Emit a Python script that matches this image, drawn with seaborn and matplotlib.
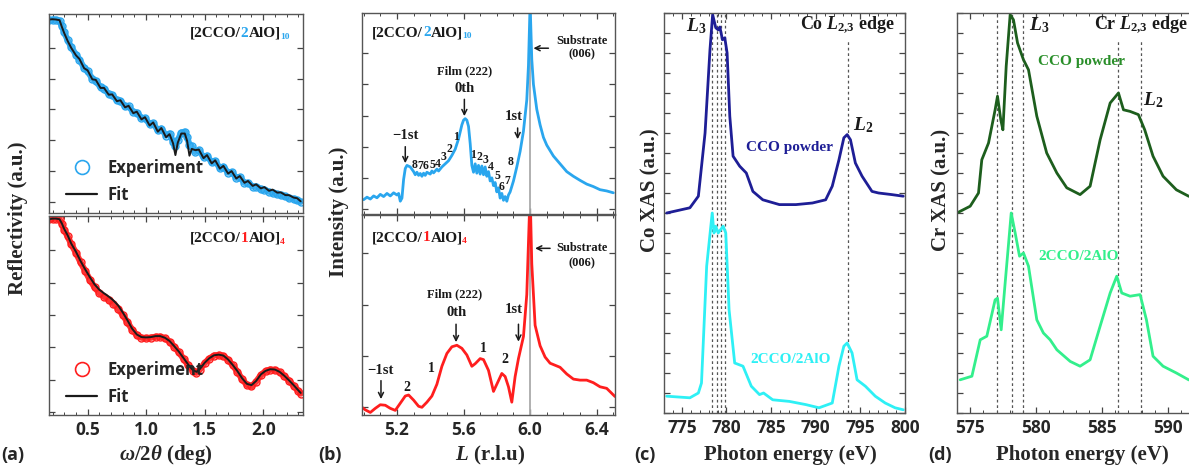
import matplotlib
matplotlib.use("Agg")
import matplotlib.pyplot as plt
import seaborn as sns
from matplotlib.lines import Line2D
from matplotlib.ticker import MultipleLocator, FixedLocator

# ---------------- data ----------------
# (a) reflectivity, top sample [2CCO/2AlO]10  (log units, a.u.)
angle_top = [0.17, 0.20, 0.23, 0.26, 0.28, 0.30, 0.33, 0.36, 0.40, 0.43, 0.47, 0.50, 0.54, 0.57,
             0.61, 0.64, 0.68, 0.71, 0.75, 0.78, 0.82, 0.85, 0.89, 0.92, 0.96, 0.99, 1.03, 1.06,
             1.10, 1.13, 1.17, 1.20, 1.23, 1.25, 1.27, 1.30, 1.33, 1.35, 1.37, 1.39, 1.42, 1.45,
             1.49, 1.52, 1.56, 1.59, 1.63, 1.66, 1.70, 1.73, 1.77, 1.80, 1.84, 1.87, 1.91, 1.94,
             1.98, 2.01, 2.05, 2.08, 2.12, 2.15, 2.19, 2.22, 2.26, 2.29, 2.32]
exp_top = [5.90, 5.92, 5.91, 5.88, 5.70, 5.50, 5.25, 5.02, 4.78, 4.62, 4.35, 4.24, 4.00, 3.93,
           3.72, 3.68, 3.50, 3.47, 3.30, 3.28, 3.10, 3.10, 2.92, 2.90, 2.72, 2.72, 2.52, 2.55,
           2.32, 2.38, 2.15, 2.22, 1.95, 1.82, 2.00, 2.25, 2.28, 2.10, 1.85, 1.80, 1.62, 1.68,
           1.45, 1.50, 1.28, 1.32, 1.10, 1.14, 0.95, 0.97, 0.78, 0.80, 0.62, 0.62, 0.50, 0.50,
           0.42, 0.40, 0.33, 0.30, 0.25, 0.22, 0.18, 0.12, 0.10, 0.05, 0.00]
fit_top = [5.92, 5.93, 5.92, 5.90, 5.68, 5.48, 5.22, 5.00, 4.76, 4.64, 4.34, 4.27, 3.98, 3.96,
           3.70, 3.70, 3.48, 3.49, 3.27, 3.30, 3.07, 3.12, 2.88, 2.93, 2.68, 2.75, 2.48, 2.58,
           2.28, 2.40, 2.10, 2.20, 1.90, 1.52, 1.92, 2.22, 2.22, 1.98, 1.50, 1.72, 1.68, 1.70,
           1.42, 1.52, 1.25, 1.35, 1.08, 1.17, 0.92, 1.00, 0.76, 0.84, 0.62, 0.68, 0.52, 0.57,
           0.44, 0.48, 0.36, 0.40, 0.30, 0.31, 0.22, 0.22, 0.14, 0.12, 0.02]

# (a) reflectivity, bottom sample [2CCO/1AlO]4
angle_bot = [0.17, 0.20, 0.23, 0.26, 0.28, 0.30, 0.33, 0.36, 0.40, 0.44, 0.48, 0.52, 0.56, 0.60,
             0.64, 0.68, 0.72, 0.76, 0.80, 0.84, 0.88, 0.92, 0.96, 1.00, 1.04, 1.08, 1.12, 1.16,
             1.20, 1.24, 1.28, 1.32, 1.36, 1.40, 1.43, 1.46, 1.50, 1.54, 1.58, 1.62, 1.66, 1.70,
             1.74, 1.78, 1.82, 1.86, 1.90, 1.94, 1.98, 2.02, 2.06, 2.10, 2.14, 2.18, 2.22, 2.26,
             2.30, 2.32]
exp_bot = [5.95, 5.97, 5.97, 5.95, 5.80, 5.62, 5.42, 5.18, 4.92, 4.62, 4.35, 4.08, 3.85, 3.68,
           3.57, 3.47, 3.35, 3.20, 3.00, 2.78, 2.55, 2.38, 2.30, 2.29, 2.30, 2.33, 2.33, 2.28,
           2.18, 2.02, 1.85, 1.65, 1.45, 1.28, 1.22, 1.32, 1.52, 1.66, 1.75, 1.77, 1.74, 1.62,
           1.45, 1.25, 1.02, 0.85, 0.80, 0.95, 1.15, 1.27, 1.32, 1.31, 1.24, 1.12, 0.98, 0.82,
           0.66, 0.58]
fit_bot = [5.95, 5.97, 5.97, 5.95, 5.82, 5.65, 5.45, 5.20, 4.95, 4.66, 4.40, 4.16, 3.94, 3.78,
           3.67, 3.57, 3.45, 3.30, 3.08, 2.84, 2.58, 2.40, 2.32, 2.31, 2.32, 2.35, 2.35, 2.30,
           2.20, 2.04, 1.87, 1.67, 1.47, 1.30, 1.25, 1.34, 1.53, 1.67, 1.76, 1.78, 1.75, 1.63,
           1.46, 1.27, 1.05, 0.88, 0.84, 0.97, 1.17, 1.28, 1.33, 1.32, 1.25, 1.13, 0.99, 0.84,
           0.68, 0.60]

# (b) XRD, top sample
L_top = [5.00, 5.02, 5.04, 5.06, 5.08, 5.10, 5.12, 5.14, 5.16, 5.18, 5.20, 5.21, 5.22, 5.23,
         5.24, 5.25, 5.26, 5.28, 5.30, 5.31, 5.32, 5.33, 5.34, 5.35, 5.36, 5.37, 5.38, 5.40,
         5.41, 5.42, 5.44, 5.45, 5.47, 5.49, 5.51, 5.53, 5.55, 5.57, 5.59, 5.60, 5.61, 5.62,
         5.63, 5.64, 5.65, 5.66, 5.67, 5.68, 5.69, 5.70, 5.71, 5.72, 5.73, 5.74, 5.75, 5.76,
         5.77, 5.78, 5.79, 5.80, 5.81, 5.82, 5.83, 5.84, 5.85, 5.86, 5.87, 5.88, 5.90, 5.92,
         5.94, 5.96, 5.98, 5.99, 6.00, 6.01, 6.02, 6.04, 6.06, 6.08, 6.10, 6.14, 6.18, 6.22,
         6.26, 6.30, 6.34, 6.38, 6.42, 6.46, 6.50]
I_top = [0.30, 0.38, 0.32, 0.42, 0.36, 0.47, 0.40, 0.50, 0.42, 0.52, 0.45, 0.50, 0.25, 0.35,
         0.95, 1.30, 1.40, 1.35, 1.20, 1.10, 1.18, 1.08, 1.14, 1.05, 1.15, 1.08, 1.18, 1.12,
         1.22, 1.16, 1.28, 1.22, 1.35, 1.45, 1.55, 1.72, 1.92, 2.25, 2.70, 2.85, 2.90, 2.85,
         2.65, 2.10, 1.40, 1.18, 1.45, 1.15, 1.40, 1.12, 1.38, 1.10, 1.35, 1.05, 1.20, 0.90,
         1.00, 0.75, 0.85, 0.55, 0.68, 0.35, 0.50, 0.28, 0.40, 0.25, 0.45, 0.55, 0.90, 1.35,
         1.85, 2.50, 3.50, 4.60, 6.60, 4.80, 4.00, 3.20, 2.70, 2.30, 2.05, 1.70, 1.45, 1.20,
         1.05, 0.92, 0.80, 0.72, 0.62, 0.58, 0.52]

# (b) XRD, bottom sample
L_bot = [4.99, 5.01, 5.04, 5.07, 5.10, 5.13, 5.16, 5.19, 5.22, 5.25, 5.27, 5.30, 5.33, 5.35,
         5.38, 5.41, 5.44, 5.47, 5.50, 5.53, 5.56, 5.59, 5.62, 5.65, 5.67, 5.70, 5.72, 5.75,
         5.78, 5.80, 5.83, 5.85, 5.87, 5.89, 5.91, 5.93, 5.96, 5.98, 5.99, 6.00, 6.01, 6.03,
         6.06, 6.09, 6.12, 6.15, 6.18, 6.22, 6.26, 6.30, 6.34, 6.38, 6.42, 6.46, 6.51]
I_bot = [0.00, -0.05, -0.10, -0.02, 0.05, 0.04, -0.02, -0.06, 0.08, 0.22, 0.24, 0.14, 0.02, 0.00,
         0.10, 0.22, 0.45, 0.80, 1.05, 1.18, 1.21, 1.15, 1.02, 0.80, 0.85, 0.95, 0.93, 0.72,
         0.31, 0.45, 0.66, 0.60, 0.40, 0.10, 0.60, 0.95, 1.38, 2.20, 3.20, 4.20, 2.80, 1.60,
         1.20, 0.98, 0.86, 0.82, 0.78, 0.65, 0.55, 0.53, 0.53, 0.48, 0.40, 0.37, 0.21]

# (c) Co L-edge XAS
E_co_powder = [773.3, 775.9, 776.85, 777.6, 778.15, 778.45, 778.8, 779.07, 779.26, 779.55, 779.81,
               780.07, 780.37, 780.74, 781.48, 782.22, 782.96, 784.07, 785.93, 787.78, 789.63,
               791.11, 791.85, 792.6, 793.15, 793.52, 793.89, 794.44, 795.19, 796.3, 797.04,
               798.52, 799.81]
xas_co_powder = [5.00, 5.13, 5.42, 7.00, 9.08, 9.96, 9.63, 9.58, 9.65, 9.33, 9.38,
                 9.00, 7.42, 6.42, 6.17, 6.00, 5.54, 5.33, 5.21, 5.21, 5.25,
                 5.33, 5.67, 6.33, 6.88, 6.96, 6.83, 6.25, 5.92, 5.54, 5.50,
                 5.46, 5.42]
E_co_film = [773.3, 775.9, 776.85, 777.2, 777.78, 778.4, 778.6, 778.8, 779.07, 779.33, 779.63,
             779.92, 780.29, 780.92, 781.85, 782.78, 783.7, 784.15, 785.18, 787.04, 788.89,
             790.37, 791.85, 792.6, 793.15, 793.52, 794.07, 794.63, 795.56, 796.67, 797.78,
             798.89, 799.81]
xas_co_film = [0.42, 0.38, 0.50, 0.75, 3.67, 5.00, 4.50, 4.67, 4.50, 4.58, 4.67,
               4.50, 2.58, 1.25, 1.17, 0.67, 0.46, 0.50, 0.33, 0.29, 0.21,
               0.13, 0.25, 1.17, 1.67, 1.75, 1.50, 0.83, 0.67, 0.42, 0.25,
               0.13, 0.08]
co_L3_lines = [778.4, 778.9, 779.37, 779.85]
co_L2_line = 793.6

# (d) Cr L-edge XAS
E_cr_powder = [573.99, 575.0, 575.63, 575.88, 576.39, 576.89, 577.07, 577.32, 577.48, 577.73,
               578.03, 578.28, 578.59, 579.04, 579.42, 580.05, 580.8, 581.57, 582.32, 583.33,
               584.09, 584.85, 585.61, 586.24, 586.62, 587.12, 587.75, 588.23, 588.86, 589.62,
               590.63, 591.56, 592.8]
xas_cr_powder = [5.00, 5.17, 5.50, 6.33, 6.75, 7.58, 7.92, 7.33, 7.08, 8.67,
                 9.96, 9.83, 9.25, 8.83, 8.58, 7.42, 6.50, 6.00, 5.63, 5.46,
                 5.67, 6.83, 7.75, 8.00, 7.58, 7.54, 7.46, 7.08, 6.42, 5.92,
                 5.58, 5.42, 5.33]
E_cr_film = [574.24, 575.13, 575.76, 576.26, 576.89, 577.07, 577.35, 577.65, 578.11, 578.41,
             578.74, 579.04, 579.42, 580.05, 580.55, 581.06, 581.57, 582.58, 583.33, 584.09,
             584.85, 585.61, 586.11, 586.49, 587.12, 587.88, 588.36, 588.86, 589.62, 590.63,
             591.56, 592.8]
xas_cr_film = [0.83, 0.92, 1.83, 1.92, 2.83, 2.87, 2.08, 3.25, 5.00, 4.50,
               3.92, 4.00, 3.67, 2.33, 2.00, 1.83, 1.58, 1.29, 1.17, 1.33,
               2.17, 3.00, 3.42, 3.00, 2.92, 2.96, 2.33, 1.42, 1.17, 1.00,
               0.83, 0.75]
cr_L3_lines = [577.07, 578.2, 579.04]
cr_L2_lines = [586.24, 587.93]

# ---------------- style ----------------
sns.set_theme(style="ticks")
SANS = ['Open Sans', 'DejaVu Sans']
SERIF = ['Liberation Serif', 'DejaVu Serif']
plt.rcParams['font.family'] = SANS
plt.rcParams['mathtext.fontset'] = 'custom'
plt.rcParams['mathtext.rm'] = 'Liberation Serif:bold'
plt.rcParams['mathtext.it'] = 'Liberation Serif:italic:bold'
plt.rcParams['mathtext.bf'] = 'Liberation Serif:bold'

BLUE = '#2aa6ee'
RED = '#ff1e1e'
NAVY = '#1e1e96'
CYAN = '#2ef0f5'
DKGREEN = '#1d5e1d'
LTGREEN = '#33ef8c'
TXTGREEN = '#2a8f2a'
SPINE = '#555555'

W, H = 1189, 466
fig = plt.figure(figsize=(W / 100, H / 100), dpi=100)


def rect(x0, y0, x1, y1):
    return [x0 / W, 1 - y1 / H, (x1 - x0) / W, (y1 - y0) / H]


def style_ax(ax):
    for s in ax.spines.values():
        s.set_color(SPINE)
        s.set_linewidth(1.0)
    ax.tick_params(which='both', direction='in', top=True, right=True, color='#444444',
                   labelsize=12.5, pad=4)
    ax.tick_params(which='major', length=4, width=0.9)
    ax.tick_params(which='minor', length=2, width=0.7)
    for lab in ax.get_xticklabels():
        lab.set_fontweight('bold')
        lab.set_family(SANS)
    ax.set_yticklabels([])
    ax.set_xlabel('')
    ax.set_ylabel('')


def rich(ax, x, y, parts, fs):
    txt, col, _ = parts[0]
    prev = ax.text(x, y, txt, color=col, fontsize=fs, fontweight='bold', family=SERIF,
                   transform=ax.transAxes, va='bottom', ha='left')
    for txt, col, sub in parts[1:]:
        if sub:
            prev = ax.annotate(txt, xy=(1, 0), xycoords=prev, xytext=(-0.6, -0.6),
                               textcoords='offset points', fontsize=fs * 0.62, color=col,
                               fontweight='bold', family=SERIF, va='bottom', ha='left')
        else:
            prev = ax.annotate(txt, xy=(1, 0), xycoords=prev, fontsize=fs, color=col,
                               fontweight='bold', family=SERIF, va='bottom', ha='left')


def stxt(ax, x, y, s, fs, color='k', ha='center', va='center'):
    ax.text(x, y, s, fontsize=fs, color=color, fontweight='bold', family=SERIF,
            ha=ha, va=va)


def arrow(ax, x0, y0, x1, y1):
    ax.annotate('', xy=(x1, y1), xytext=(x0, y0),
                arrowprops=dict(arrowstyle='->', lw=1.1, color='k', shrinkA=0, shrinkB=0,
                                mutation_scale=9))


# ---------------- (a) ----------------
ax_at = fig.add_axes(rect(49, 14, 303, 213))
ax_ab = fig.add_axes(rect(49, 216, 303, 415))
for ax, xs, ye, yf, col, lim, lab, ly in [
        (ax_at, angle_top, exp_top, fit_top, BLUE, (-0.36, 6.1), [('[2CCO/', 'k', 0), ('2', BLUE, 0), ('AlO]', 'k', 0), ('10', BLUE, 1)], 0.87),
        (ax_ab, angle_bot, exp_bot, fit_bot, RED, (-0.08, 6.05), [('[2CCO/', 'k', 0), ('1', RED, 0), ('AlO]', 'k', 0), ('4', RED, 1)], 0.855)]:
    sns.lineplot(x=xs, y=ye, ax=ax, color=col, lw=4.5, sort=False, estimator=None, alpha=0.9)
    sns.lineplot(x=xs, y=ye, ax=ax, color=col, lw=0, marker='o', markersize=5,
                 markerfacecolor='none', markeredgecolor=col, markeredgewidth=1.0,
                 sort=False, estimator=None)
    sns.lineplot(x=xs, y=yf, ax=ax, color='k', lw=1.4, sort=False, estimator=None)
    ax.set_xlim(0.17, 2.34)
    ax.set_ylim(*lim)
    ax.xaxis.set_major_locator(MultipleLocator(0.5))
    ax.xaxis.set_minor_locator(MultipleLocator(0.1))
    ax.yaxis.set_major_locator(FixedLocator([0, 1, 2, 3, 4, 5]))
    handles = [Line2D([], [], marker='o', ls='none', mfc='none', mec=col, ms=10, mew=1.2),
               Line2D([], [], color='k', lw=1.6)]
    ax.legend(handles, ['Experiment', 'Fit'], loc='lower left', bbox_to_anchor=(0.0, -0.04),
              frameon=False, prop=dict(family=SANS, size=12, weight='bold'),
              handlelength=1.9, handletextpad=0.6, labelspacing=0.55, borderpad=0.5)
    style_ax(ax)
    rich(ax, 0.555, ly, lab, 11)
ax_at.set_xticklabels([])

# ---------------- (b) ----------------
ax_bt = fig.add_axes(rect(362, 13, 615, 214))
ax_bb = fig.add_axes(rect(362, 215, 615, 415))
for ax, xs, ys, col, lim, ticks in [
        (ax_bt, L_top, I_top, BLUE, (-0.16, 6.29), [0, 1, 2, 3, 4, 5]),
        (ax_bb, L_bot, I_bot, RED, (-0.15, 3.75), [0, 1, 2, 3])]:
    ax.axvline(6.0, color='#aaaaaa', lw=1.3, zorder=1)
    sns.lineplot(x=xs, y=ys, ax=ax, color=col, lw=2.0, sort=False, estimator=None, zorder=2)
    ax.set_xlim(4.99, 6.51)
    ax.set_ylim(*lim)
    ax.xaxis.set_major_locator(MultipleLocator(0.4))
    ax.xaxis.set_minor_locator(MultipleLocator(0.1))
    ax.yaxis.set_major_locator(FixedLocator(ticks))
    style_ax(ax)
ax_bt.set_xticklabels([])
rich(ax_bt, 0.04, 0.87, [('[2CCO/', 'k', 0), ('2', BLUE, 0), ('AlO]', 'k', 0), ('10', BLUE, 1)], 11)
rich(ax_bb, 0.04, 0.855, [('[2CCO/', 'k', 0), ('1', RED, 0), ('AlO]', 'k', 0), ('4', RED, 1)], 11)

# top annotations
stxt(ax_bt, 5.605, 4.41, 'Film (222)', 9)
stxt(ax_bt, 5.605, 3.87, '0th', 10.5)
arrow(ax_bt, 5.605, 3.52, 5.605, 2.98)
stxt(ax_bt, 5.25, 2.37, '\u22121st', 10.5)
arrow(ax_bt, 5.25, 2.0, 5.25, 1.47)
stxt(ax_bt, 5.90, 2.96, '1st', 10.5)
arrow(ax_bt, 5.925, 2.6, 5.925, 2.24)
stxt(ax_bt, 6.31, 5.38, 'Substrate', 9)
stxt(ax_bt, 6.31, 4.95, '(006)', 9)
arrow(ax_bt, 6.11, 5.16, 6.02, 5.16)
num_L_top = [5.308, 5.342, 5.374, 5.412, 5.448, 5.482, 5.518, 5.552,
             5.658, 5.694, 5.730, 5.766, 5.804, 5.830, 5.864, 5.884]
num_y_top = [1.42, 1.38, 1.38, 1.40, 1.45, 1.67, 1.94, 2.31,
             1.72, 1.67, 1.58, 1.34, 1.05, 0.70, 0.91, 1.51]
num_txt_top = ['8', '7', '6', '5', '4', '3', '2', '1', '1', '2', '3', '4', '5', '6', '7', '8']
for xx, yy, tt in zip(num_L_top, num_y_top, num_txt_top):
    stxt(ax_bt, xx, yy, tt, 8.5)

# bottom annotations
stxt(ax_bb, 5.548, 2.20, 'Film (222)', 9)
stxt(ax_bb, 5.556, 1.84, '0th', 10.5)
arrow(ax_bb, 5.555, 1.62, 5.555, 1.27)
stxt(ax_bb, 5.098, 0.71, '\u22121st', 10.5)
arrow(ax_bb, 5.104, 0.52, 5.104, 0.16)
stxt(ax_bb, 5.904, 1.90, '1st', 10.5)
arrow(ax_bb, 5.93, 1.62, 5.93, 1.28)
stxt(ax_bb, 6.31, 3.10, 'Substrate', 9)
stxt(ax_bb, 6.31, 2.81, '(006)', 9)
arrow(ax_bb, 6.12, 3.10, 6.03, 3.10)
for xx, yy, tt in zip([5.258, 5.404, 5.722, 5.848], [0.39, 0.75, 1.15, 0.94], ['2', '1', '1', '2']):
    stxt(ax_bb, xx, yy, tt, 10)

# ---------------- (c) ----------------
ax_c = fig.add_axes(rect(664, 13, 905, 413))
for e in co_L3_lines:
    ax_c.axvline(e, color='#555555', lw=0.9, ls=(0, (2.2, 2.2)), zorder=1)
ax_c.vlines(co_L2_line, 0, 9.35, color='#555555', lw=0.9, ls=(0, (2.2, 2.2)), zorder=1)
sns.lineplot(x=E_co_powder, y=xas_co_powder, ax=ax_c, color=NAVY, lw=2.0, sort=False,
             estimator=None, zorder=2)
sns.lineplot(x=E_co_film, y=xas_co_film, ax=ax_c, color=CYAN, lw=2.0, sort=False,
             estimator=None, zorder=2)
ax_c.set_xlim(773.0, 800.0)
ax_c.set_ylim(0, 10)
ax_c.xaxis.set_major_locator(MultipleLocator(5))
ax_c.xaxis.set_minor_locator(MultipleLocator(1))
ax_c.yaxis.set_major_locator(MultipleLocator(0.5))
style_ax(ax_c)
stxt(ax_c, 776.66, 9.68, '$L_3$', 14)
stxt(ax_c, 793.5, 9.68, 'Co $L_{2{,}3}$ edge', 13)
stxt(ax_c, 795.3, 7.2, '$L_2$', 14)
stxt(ax_c, 787.1, 6.63, 'CCO powder', 11, color=NAVY)
stxt(ax_c, 787.2, 1.33, '2CCO/2AlO', 11, color=CYAN)

# ---------------- (d) ----------------
ax_d = fig.add_axes(rect(957, 13, 1205, 413))
for e in cr_L3_lines:
    ax_d.axvline(e, color='#555555', lw=0.9, ls=(0, (2.2, 2.2)), zorder=1)
for e in cr_L2_lines:
    ax_d.vlines(e, 0, 9.33, color='#555555', lw=0.9, ls=(0, (2.2, 2.2)), zorder=1)
sns.lineplot(x=E_cr_powder, y=xas_cr_powder, ax=ax_d, color=DKGREEN, lw=2.0, sort=False,
             estimator=None, zorder=2)
sns.lineplot(x=E_cr_film, y=xas_cr_film, ax=ax_d, color=LTGREEN, lw=2.0, sort=False,
             estimator=None, zorder=2)
ax_d.set_xlim(574.0, 592.8)
ax_d.set_ylim(0, 10)
ax_d.xaxis.set_major_locator(MultipleLocator(5))
ax_d.xaxis.set_minor_locator(MultipleLocator(1))
ax_d.yaxis.set_major_locator(MultipleLocator(0.5))
style_ax(ax_d)
stxt(ax_d, 580.2, 9.7, '$L_3$', 14)
stxt(ax_d, 587.9, 9.7, 'Cr $L_{2{,}3}$ edge', 13)
stxt(ax_d, 588.9, 7.83, '$L_2$', 14)
stxt(ax_d, 583.45, 8.78, 'CCO powder', 11, color=TXTGREEN)
stxt(ax_d, 583.2, 3.9, '2CCO/2AlO', 11, color=LTGREEN)

# ---------------- labels ----------------
def ftxt(x, y, s, fs, rot=0, family=SERIF, ha='center'):
    fig.text(x / W, 1 - y / H, s, fontsize=fs, fontweight='bold', family=family,
             rotation=rot, ha=ha, va='center')

ftxt(18, 218, 'Reflectivity (a.u.)', 15, rot=90)
ftxt(339, 212, 'Intensity (a.u.)', 15, rot=90)
ftxt(650, 190, 'Co XAS (a.u.)', 15, rot=90)
ftxt(941, 190, 'Cr XAS (a.u.)', 15, rot=90)
ftxt(166, 455, r'$\omega$/2$\theta$ (deg)', 15)
ftxt(490, 455, r'$L$ (r.l.u)', 15)
ftxt(790, 455, 'Photon energy (eV)', 15)
ftxt(1082, 455, 'Photon energy (eV)', 15)
ftxt(1, 455, '(a)', 13, family=SANS, ha='left')
ftxt(318, 455, '(b)', 13, family=SANS, ha='left')
ftxt(634, 455, '(c)', 13, family=SANS, ha='left')
ftxt(928, 455, '(d)', 13, family=SANS, ha='left')

fig.savefig('out.png', dpi=100)
